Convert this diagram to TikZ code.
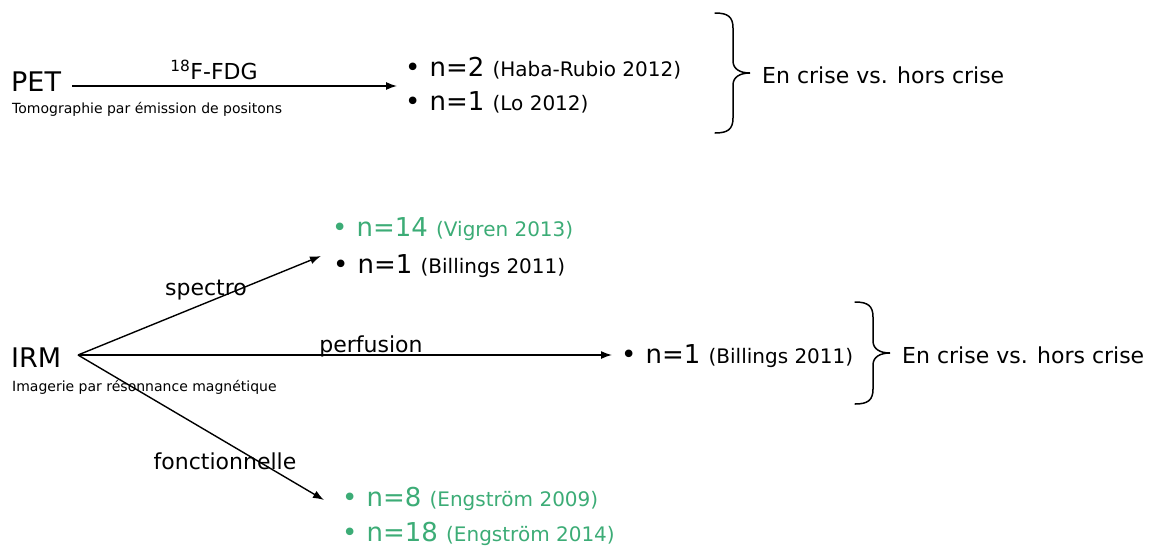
\documentclass[tikz,border=0pt]{standalone}
\usepackage{fontspec}
\setmainfont{DejaVu Sans}
\usetikzlibrary{arrows.meta}
\definecolor{studygreen}{RGB}{60,172,118}
\begin{document}
\begin{tikzpicture}[x=1pt,y=-1pt]
		  \tikzset{
		    txt/.style={inner sep=0pt,anchor=base west},
		    modality/.style={txt,font=\fontsize{27}{29}\selectfont},
		    subtitle/.style={txt,font=\fontsize{14}{16}\selectfont},
		    route/.style={inner sep=0pt,font=\fontsize{22}{24}\selectfont},
		    study/.style={txt,font=\fontsize{26}{28}\selectfont},
		    arr/.style={-{Latex[length=11pt,width=8pt]},line width=1.4pt},
		    crise brace/.style={line width=1.5pt,line cap=round}
		  }
		  \newcommand{\auteur}[1]{{\fontsize{20}{22}\selectfont(#1)}}
		  \newcommand{\bul}{•\hspace{9pt}}
		  % accolade : x du bout, y haut, y bas
		  \newcommand{\accolade}[3]{%
		    \draw[crise brace] (#1,#2) .. controls ({#1+13},#2) and ({#1+18},{#2+4}) .. ({#1+18},{#2+15})
		      -- ({#1+18},{(#2+#3)/2-12}) .. controls ({#1+18},{(#2+#3)/2-4}) and ({#1+25},{(#2+#3)/2}) .. ({#1+35},{(#2+#3)/2})
		      .. controls ({#1+25},{(#2+#3)/2}) and ({#1+18},{(#2+#3)/2+4}) .. ({#1+18},{(#2+#3)/2+12})
		      -- ({#1+18},{#3-15}) .. controls ({#1+18},{#3-4}) and ({#1+13},#3) .. (#1,#3);}
		  \useasboundingbox (0,0) rectangle (1150,547);
		
		  % PET
		  \node[modality] (pet) at (11,91) {PET};
		  \node[subtitle] (petsub) at (12,113) {Tomographie par émission de positons};
		  \coordinate (pethub) at (72,86);
		  \coordinate (petend) at (397,86);
		  \draw[arr] (pethub) -- (petend);
		  \node[route] (fdg) at (214,70) {\textsuperscript{18}F-FDG};
		  \node[study] (haba) at (405,76) {\bul n=2 \auteur{Haba-Rubio 2012}};
		  \node[study] (lo) at (405,110) {\bul n=1 \auteur{Lo 2012}};
		  \accolade{715}{13}{133}
		  \node[route,anchor=west] (crise1) at (762,75) {En crise vs. hors crise};
		
		  % IRM
		  \node[modality] (irm) at (11,367) {IRM};
		  \node[subtitle] (irmsub) at (12,391) {Imagerie par résonnance magnétique};
		  \coordinate (irmhub) at (78,355);
		  \coordinate (specend) at (321,256);
		  \coordinate (perfend) at (612,355);
		  \coordinate (foncend) at (324,500);
		  \draw[arr] (irmhub) -- (specend);
		  \draw[arr] (irmhub) -- (perfend);
		  \draw[arr] (irmhub) -- (foncend);
		  \node[route] (speclbl) at (206,290) {spectro};
		  \node[route] (perflbl) at (371,346) {perfusion};
		  \node[route] (fonclbl) at (225,461) {fonctionnelle};
		  \node[study,text=studygreen] (vigren) at (332,236) {\bul n=14 \auteur{Vigren 2013}};
		  \node[study] (billA) at (333,273) {\bul n=1 \auteur{Billings 2011}};
		  \node[study] (billB) at (621,363) {\bul n=1 \auteur{Billings 2011}};
		  \accolade{855}{302}{404}
		  \node[route,anchor=west] (crise2) at (902,355) {En crise vs. hors crise};
		  \node[study,text=studygreen] (eng1) at (342,506) {\bul n=8 \auteur{Engström 2009}};
		  \node[study,text=studygreen] (eng2) at (342,541) {\bul n=18 \auteur{Engström 2014}};
		\end{tikzpicture}
\end{document}
